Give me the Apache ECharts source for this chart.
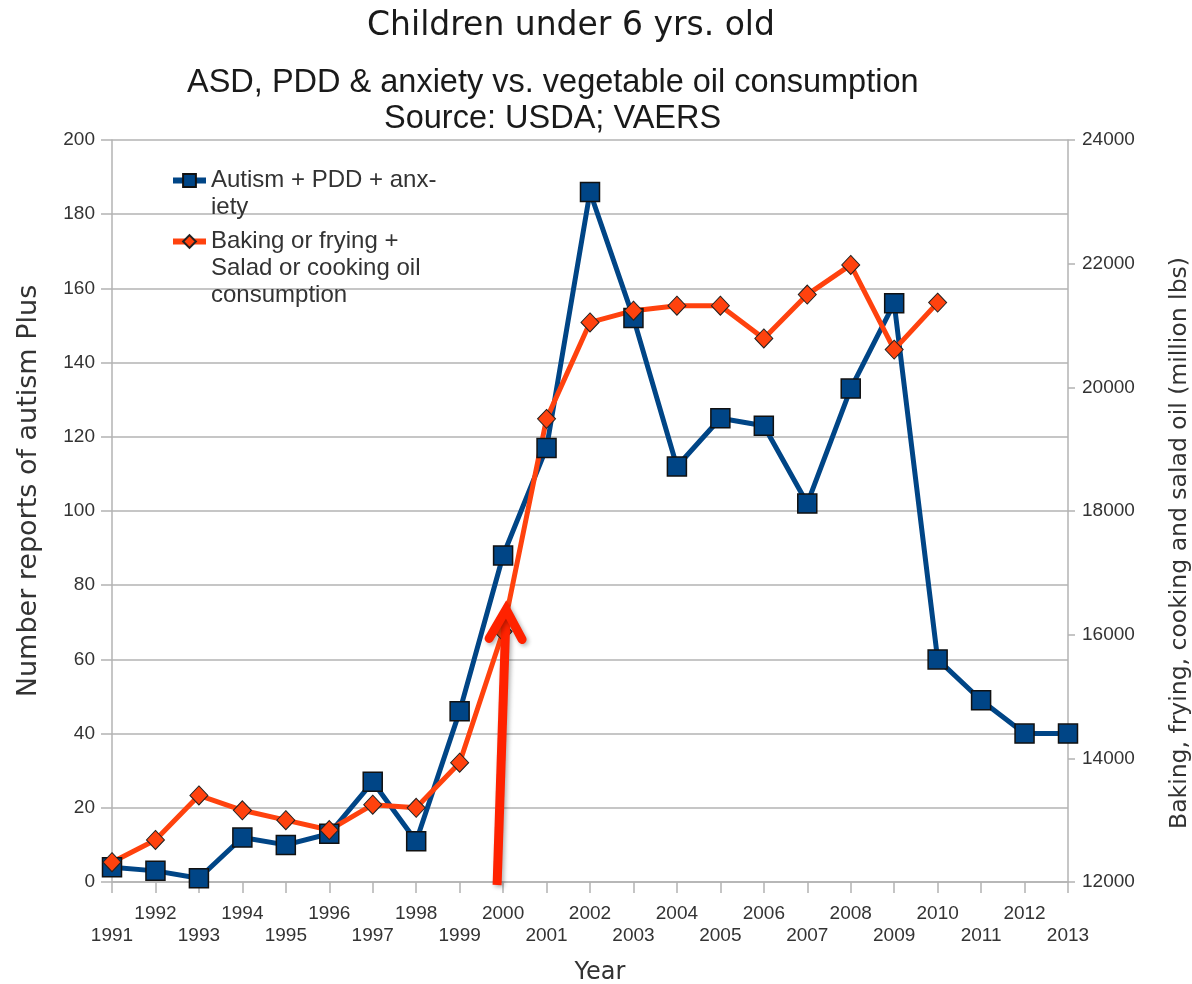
<!DOCTYPE html>
<html>
<head>
<meta charset="utf-8">
<script src="https://cdn.jsdelivr.net/npm/echarts@6/dist/echarts.min.js"></script>
<style>
  html, body { margin: 0; padding: 0; background: #fff; }
  #chart { width: 1192px; height: 984px; }
</style>
</head>
<body>
<div id="chart"></div>
<script>
const years = ["1991", "1992", "1993", "1994", "1995", "1996", "1997", "1998", "1999", "2000", "2001", "2002",
  "2003", "2004", "2005", "2006", "2007", "2008", "2009", "2010", "2011", "2012", "2013"];
const autismReports = [4, 3, 1, 12, 10, 13, 27, 11, 46, 88, 117, 186, 152, 112, 125, 123, 102, 133, 156, 60, 49, 40, 40];
const oilConsumption = [12320, 12680, 13400, 13160, 13000, 12840, 13250, 13200, 13930, 16050, 19490, 21050,
  21240, 21320, 21320, 20790, 21500, 21980, 20610, 21370, null, null, null];
const leftTicks = { min: 0, max: 200, interval: 20 };
const rightTicks = { min: 12000, max: 24000, interval: 2000 };

const autismName = "Autism + PDD + anxiety";
const oilName = "Baking or frying + Salad or cooking oil consumption";
// blank lines above keep the legend icon level with the first line
const legendText = {};
legendText[autismName] = "\nAutism + PDD + anx-\niety";
legendText[oilName] = "\n\nBaking or frying +\nSalad or cooking oil\nconsumption";

const font = "Liberation Sans";
const nameFont = "DejaVu Sans";
const gray = "#b3b3b3";
const textColor = "#333";
const titleColor = "#1a1a1a";

const chart = echarts.init(document.getElementById("chart"));

const options = {
  animation: false,
  backgroundColor: "#fff",
  textStyle: { fontFamily: font },
  title: [
    {
      text: "Children under 6 yrs. old",
      left: 367,
      top: 10,
      padding: 0,
      textStyle: { fontSize: 33, lineHeight: 33, fontWeight: "normal", color: titleColor, fontFamily: nameFont },
    },
    {
      text: "ASD, PDD & anxiety vs. vegetable oil consumption",
      left: 187,
      top: 65,
      padding: 0,
      textStyle: { fontSize: 32.5, lineHeight: 36, fontWeight: "normal", color: titleColor, fontFamily: font },
    },
    {
      text: "Source: USDA; VAERS",
      left: 384,
      top: 101,
      padding: 0,
      textStyle: { fontSize: 32.5, lineHeight: 36, fontWeight: "normal", color: titleColor, fontFamily: font },
    },
  ],
  legend: {
    left: 170,
    top: 140,
    orient: "vertical",
    padding: 0,
    itemGap: -47,
    itemWidth: 33,
    itemHeight: 16,
    lineStyle: { width: 6 },
    data: [autismName, oilName],
    formatter: (name) => legendText[name],
    textStyle: { fontSize: 24, lineHeight: 27, color: textColor, fontFamily: font },
  },
  grid: { left: 112, right: 124, top: 140, bottom: 102, outerBoundsMode: "none" },
  xAxis: {
    type: "category",
    data: years,
    boundaryGap: false,
    name: "Year",
    nameLocation: "middle",
    nameGap: 79,
    nameTextStyle: { fontSize: 24, color: textColor, fontFamily: nameFont, padding: [0, 0, 0, 20] },
    axisLine: { lineStyle: { color: gray, width: 1.5 } },
    axisTick: { show: true, length: 11, interval: 0, lineStyle: { color: gray, width: 1.5 } },
    axisLabel: {
      interval: 0,
      margin: 21,
      fontSize: 19,
      lineHeight: 22,
      color: textColor,
      formatter: (v, i) => (i % 2 === 0 ? "\n" + v : v + "\n"),
    },
    splitLine: { show: false },
  },
  yAxis: [
    {
      type: "value",
      min: leftTicks.min,
      max: leftTicks.max,
      interval: leftTicks.interval,
      name: "Number reports of autism Plus",
      nameLocation: "middle",
      nameGap: 70,
      nameTextStyle: { fontSize: 27, color: textColor, fontFamily: nameFont, padding: [0, 0, 0, 40] },
      axisLine: { show: true, lineStyle: { color: gray, width: 1.5 } },
      axisTick: { show: true, length: 11, lineStyle: { color: gray, width: 1.5 } },
      axisLabel: { fontSize: 19, margin: 17, color: textColor },
      splitLine: { show: true, lineStyle: { color: gray, width: 1.5 } },
    },
    {
      type: "value",
      position: "right",
      min: rightTicks.min,
      max: rightTicks.max,
      interval: rightTicks.interval,
      name: "Baking, frying, cooking and salad oil (million lbs)",
      nameLocation: "middle",
      nameGap: 100,
      nameTextStyle: { fontSize: 23.5, color: textColor, fontFamily: nameFont, padding: [0, 64, 0, 0] },
      axisLine: { show: true, lineStyle: { color: gray, width: 1.5 } },
      axisTick: { show: true, length: 7, lineStyle: { color: gray, width: 1.5 } },
      axisLabel: { fontSize: 19, margin: 14, color: textColor, formatter: (v) => String(v) },
      splitLine: { show: false },
    },
  ],
  series: [
    {
      name: autismName,
      type: "line",
      yAxisIndex: 0,
      data: autismReports,
      symbol: "rect",
      symbolSize: 19,
      lineStyle: { color: "#004586", width: 5 },
      itemStyle: { color: "#004586", borderColor: "#111", borderWidth: 1.5 },
    },
    {
      name: oilName,
      type: "line",
      yAxisIndex: 1,
      data: oilConsumption,
      symbol: "diamond",
      symbolSize: [18, 19],
      lineStyle: { color: "#ff420e", width: 5 },
      itemStyle: { color: "#ff420e", borderColor: "#222", borderWidth: 1 },
    },
  ],
};

chart.setOption(options);

// red arrow pointing at the year 2000, placed through the axes
const tip = chart.convertToPixel({ xAxisIndex: 0, yAxisIndex: 0 }, ["2000", 74]);
const base = chart.convertToPixel({ xAxisIndex: 0, yAxisIndex: 0 }, ["2000", 0]);
const arrowStyle = {
  stroke: "#ff2200",
  lineWidth: 9,
  fill: null,
  shadowBlur: 4,
  shadowOffsetX: 2,
  shadowOffsetY: 2,
  shadowColor: "rgba(0,0,0,0.3)",
};
chart.setOption({
  graphic: [
    {
      type: "line",
      z: 100,
      shape: { x1: base[0] - 6, y1: base[1] + 3, x2: tip[0] + 3, y2: tip[1] + 5 },
      style: arrowStyle,
    },
    {
      type: "polyline",
      z: 100,
      shape: { points: [[tip[0] - 14, tip[1] + 31], [tip[0] + 3, tip[1] + 2], [tip[0] + 19, tip[1] + 32]] },
      style: Object.assign({ lineJoin: "miter", lineCap: "round" }, arrowStyle),
    },
  ],
});
</script>
</body>
</html>
